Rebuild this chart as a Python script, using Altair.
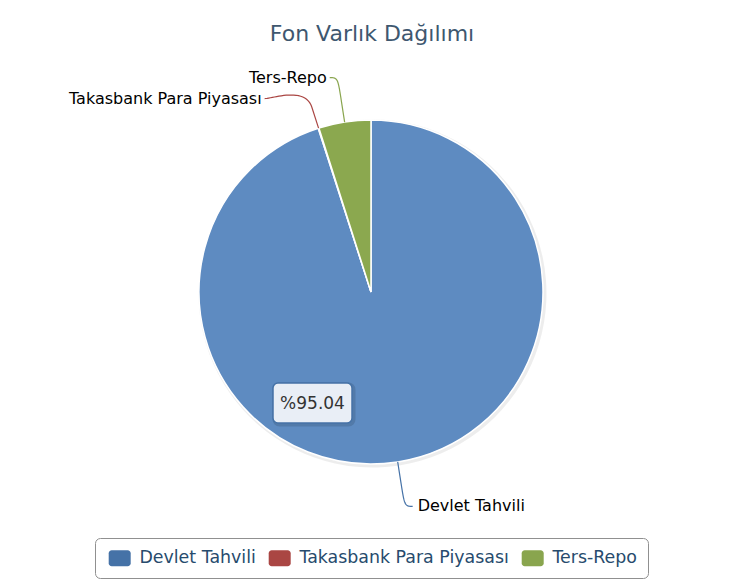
import math
import altair as alt
import pandas as pd

# ---- data ----
CATEGORIES = ["Devlet Tahvili", "Takasbank Para Piyasası", "Ters-Repo"]
SHARES = [95.04, 0.06, 4.90]
TITLE = "Fon Varlık Dağılımı"
TOOLTIP_INDEX = 0

# ---- styles ----
LEGEND_COLORS = ["#4572A7", "#AA4643", "#89A54E"]
PIE_COLORS = ["#5E8BC1", "#B45552", "#8BA84F"]
FONT = "DejaVu Sans"

# ---- layout (view coordinates) ----
W, H = 728, 530
CX, CY, R = 363, 239, 172
DIST = 45
CONN = 22
LINE_GAP = 21

total = sum(SHARES)
slices = pd.DataFrame({"category": CATEGORIES, "share": SHARES, "idx": range(len(CATEGORIES))})

# label placement computed from the slice angles
mids = []
cum = 0.0
for v in SHARES:
    a0 = cum / total * 2 * math.pi
    cum += v
    a1 = cum / total * 2 * math.pi
    mids.append((a0 + a1) / 2)

RL = R + DIST
info = []
for i, m in enumerate(mids):
    ux, uy = math.sin(m), -math.cos(m)
    info.append({"i": i, "ux": ux, "uy": uy, "left": ux < 0, "y": CY + RL * uy})

for side in (True, False):
    items = sorted([d for d in info if d["left"] == side], key=lambda d: d["y"])
    for k in range(1, len(items)):
        if items[k]["y"] < items[k - 1]["y"] + LINE_GAP:
            items[k]["y"] = items[k - 1]["y"] + LINE_GAP

line_rows = []
label_rows = []
for d in info:
    s = -1 if d["left"] else 1
    dy = d["y"] - CY
    ax = CX + s * math.sqrt(max(RL * RL - dy * dy, 0))
    ex, ey = CX + R * d["ux"], CY + R * d["uy"]
    bx, by = CX + (R + CONN) * d["ux"], CY + (R + CONN) * d["uy"]
    p0 = (ax + s * 8, d["y"])
    p1 = (ax, d["y"])
    p2 = (2 * bx - ex, 2 * by - ey)
    p3 = (bx, by)
    n = 24
    seq = 0
    for k in range(n + 1):
        t = k / n
        mt = 1 - t
        x = mt**3 * p0[0] + 3 * mt**2 * t * p1[0] + 3 * mt * t**2 * p2[0] + t**3 * p3[0]
        y = mt**3 * p0[1] + 3 * mt**2 * t * p1[1] + 3 * mt * t**2 * p2[1] + t**3 * p3[1]
        line_rows.append({"category": CATEGORIES[d["i"]], "seq": seq, "x": x, "y": y})
        seq += 1
    line_rows.append({"category": CATEGORIES[d["i"]], "seq": seq, "x": ex, "y": ey})
    label_rows.append({"category": CATEGORIES[d["i"]], "x": ax + s * (11 if d["left"] else 13),
                       "y": d["y"], "side": "left" if d["left"] else "right"})

lines = pd.DataFrame(line_rows)
labels = pd.DataFrame(label_rows)
tip = pd.DataFrame({"text": ["%" + f"{SHARES[TOOLTIP_INDEX]:.2f}"]})

xs = alt.Scale(domain=[0, W], nice=False, zero=False)
ys = alt.Scale(domain=[0, H], nice=False, zero=False, reverse=True)

shadow = alt.Chart(slices).mark_arc(radius=R + 2, color="#000000", opacity=0.07).encode(
    theta=alt.Theta("share:Q", stack=True),
    order=alt.Order("idx:Q"),
    x=alt.value(CX + 1.5), y=alt.value(CY + 1.5),
)

pie = alt.Chart(slices).mark_arc(radius=R, stroke="#ffffff", strokeWidth=1.5).encode(
    theta=alt.Theta("share:Q", stack=True),
    order=alt.Order("idx:Q"),
    color=alt.Color("category:N", scale=alt.Scale(domain=CATEGORIES, range=PIE_COLORS), legend=None),
    x=alt.value(CX), y=alt.value(CY),
)

connectors = alt.Chart(lines).mark_line(strokeWidth=1.2).encode(
    x=alt.X("x:Q", scale=xs, axis=None),
    y=alt.Y("y:Q", scale=ys, axis=None),
    order="seq:Q",
    detail="category:N",
    color=alt.Color("category:N", scale=alt.Scale(domain=CATEGORIES, range=LEGEND_COLORS), legend=None),
)

text_left = alt.Chart(labels).transform_filter(alt.datum.side == "left").mark_text(
    align="right", baseline="middle", font=FONT, fontSize=16, color="#000000"
).encode(x=alt.X("x:Q", scale=xs, axis=None), y=alt.Y("y:Q", scale=ys, axis=None), text="category:N")

text_right = alt.Chart(labels).transform_filter(alt.datum.side == "right").mark_text(
    align="left", baseline="middle", font=FONT, fontSize=16, color="#000000"
).encode(x=alt.X("x:Q", scale=xs, axis=None), y=alt.Y("y:Q", scale=ys, axis=None), text="category:N")

TX0, TX1, TY0, TY1 = 265, 344, 330, 370
tip_shadow = alt.Chart(tip).mark_rect(cornerRadius=5, fill="#000000", fillOpacity=0.0,
                                      stroke="#000000", strokeOpacity=0.12, strokeWidth=4).encode(
    x=alt.value(TX0 + 1.5), x2=alt.value(TX1 + 1.5), y=alt.value(TY0 + 1.5), y2=alt.value(TY1 + 1.5))
tip_box = alt.Chart(tip).mark_rect(cornerRadius=5, fill="#E9EEF6", stroke="#4572A7", strokeWidth=1.5).encode(
    x=alt.value(TX0), x2=alt.value(TX1), y=alt.value(TY0), y2=alt.value(TY1))
tip_text = alt.Chart(tip).mark_text(align="center", baseline="middle", font=FONT, fontSize=17,
                                    color="#333333").encode(
    x=alt.value((TX0 + TX1) / 2), y=alt.value((TY0 + TY1) / 2 + 1), text="text:N")

# 22x16 rounded swatch (units of 8px, layout box is 16x16)
SYMBOL = ("M-0.375,-1H1.625A0.375,0.375,0,0,1,2,-0.625V0.625A0.375,0.375,0,0,1,1.625,1"
          "H-0.375A0.375,0.375,0,0,1,-0.75,0.625V-0.625A0.375,0.375,0,0,1,-0.375,-1Z")

legend_layer = alt.Chart(slices).mark_point(filled=True, opacity=0, size=1).encode(
    x=alt.value(0), y=alt.value(0),
    color=alt.Color(
        "category:N",
        scale=alt.Scale(domain=CATEGORIES, range=LEGEND_COLORS),
        legend=alt.Legend(
            title=None, orient="none", legendX=87, legendY=485, direction="horizontal",
            symbolType=SYMBOL, symbolSize=256, symbolOpacity=1, symbolStrokeWidth=0,
            labelFont=FONT, labelFontSize=17.4, labelColor="#274B6D", labelLimit=400,
            labelOffset=16, columnPadding=10, padding=11,
            strokeColor="#909090", cornerRadius=5, fillColor="#ffffff",
        ),
    ),
)

chart = alt.layer(
    shadow, pie, connectors, text_left, text_right, tip_shadow, tip_box, tip_text, legend_layer
).resolve_scale(color="independent").resolve_legend(color="independent").properties(
    width=W, height=H, background="#ffffff",
    title=alt.TitleParams(TITLE, font=FONT, fontSize=22, fontWeight="normal", color="#3E576F",
                          anchor="middle", frame="group", offset=7),
    autosize=alt.AutoSizeParams(type="none"),
    padding={"left": 0, "top": 45, "right": 0, "bottom": 0},
).configure_view(strokeWidth=0, stroke="transparent")

chart.save("out.html", embed_options={"renderer": "svg", "actions": False})
